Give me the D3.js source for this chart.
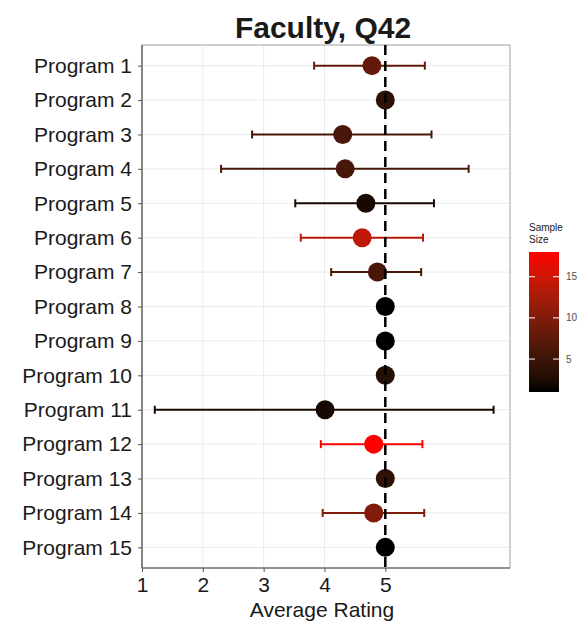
<!DOCTYPE html>
<html>
<head>
<meta charset="utf-8">
<script src="https://cdn.jsdelivr.net/npm/d3@7"></script>
<style>
  body { margin: 0; background: #fff; }
  text { font-family: "Liberation Sans", Arial, sans-serif; }
</style>
</head>
<body>
<div id="chart"></div>
<script>
var svgWidth = 582;
var svgHeight = 623;

// Panel edges
var margin = {top: 45, right: 72, bottom: 55, left: 142};
var width = svgWidth - margin.left - margin.right;
var height = svgHeight - margin.top - margin.bottom;

// Chart data
var programs = ["Program 1", "Program 2", "Program 3", "Program 4", "Program 5",
  "Program 6", "Program 7", "Program 8", "Program 9", "Program 10",
  "Program 11", "Program 12", "Program 13", "Program 14", "Program 15"];
var means = [4.78, 5, 4.30, 4.34, 4.68, 4.62, 4.87, 5, 5, 5, 4.01, 4.81, 5, 4.81, 5];
var lowers = [3.83, null, 2.81, 2.30, 3.52, 3.61, 4.11, null, null, null, 1.21, 3.94, null, 3.97, null];
var uppers = [5.65, null, 5.76, 6.37, 5.80, 5.62, 5.59, null, null, null, 6.78, 5.61, null, 5.64, null];
var sampleSizes = [8, 4, 6, 6, 2, 14, 6, 1, 1, 3, 2, 18, 4, 10, 1];
var xTicks = [1, 2, 3, 4, 5];
var legendTicks = [5, 10, 15];

var svg = d3.select("#chart")
  .append("svg")
  .attr("width", svgWidth)
  .attr("height", svgHeight);

var chartGroup = svg.append("g")
  .attr("transform", `translate(${margin.left}, ${margin.top})`);

// Scales
var xScale = d3.scaleLinear()
  .domain([1, 7.05])
  .range([0, width]);

var yScale = d3.scalePoint()
  .domain(programs)
  .range([0, height])
  .padding(0.6);

var colorScale = d3.scaleLinear()
  .domain([1, 18])
  .range(["black", "red"])
  .interpolate(d3.interpolateLab);

var rows = programs.map(function(p, i) {
  return {program: p, mean: means[i], lo: lowers[i], hi: uppers[i], n: sampleSizes[i]};
});

// Grid lines
chartGroup.selectAll(".vgrid")
  .data(xTicks)
  .enter()
  .append("line")
  .attr("x1", d => xScale(d))
  .attr("x2", d => xScale(d))
  .attr("y1", 0)
  .attr("y2", height)
  .attr("stroke", "#ebebeb")
  .attr("stroke-width", 1);

chartGroup.selectAll(".hgrid")
  .data(programs)
  .enter()
  .append("line")
  .attr("x1", 0)
  .attr("x2", width)
  .attr("y1", d => yScale(d))
  .attr("y2", d => yScale(d))
  .attr("stroke", "#ebebeb")
  .attr("stroke-width", 1);

// Panel border
chartGroup.append("rect")
  .attr("width", width)
  .attr("height", height)
  .attr("fill", "none")
  .attr("stroke", "#a0a0a0")
  .attr("stroke-width", 1);

// Axes
var bottomAxis = d3.axisBottom(xScale)
  .tickValues(xTicks)
  .tickSize(4)
  .tickPadding(5)
  .tickFormat(d3.format("d"));
var leftAxis = d3.axisLeft(yScale)
  .tickSize(4)
  .tickPadding(6);

var xAxis = chartGroup.append("g")
  .attr("transform", `translate(0, ${height})`)
  .call(bottomAxis);

var yAxis = chartGroup.append("g")
  .call(leftAxis);

[xAxis, yAxis].forEach(function(ax) {
  ax.select(".domain").attr("stroke", "#555").attr("stroke-width", 1.2);
  ax.selectAll(".tick line").attr("stroke", "#555");
  ax.selectAll(".tick text")
    .attr("fill", "#1a1a1a")
    .attr("font-size", "21px")
    .attr("font-family", "Liberation Sans, Arial, sans-serif");
});
xAxis.select(".domain").attr("d", `M0,0H${width}`);
yAxis.select(".domain").attr("d", `M0,0V${height}`);

// Error bars
var bars = rows.filter(d => d.lo !== null);
var capHalf = 4;

chartGroup.selectAll(".ebar")
  .data(bars)
  .enter()
  .append("line")
  .attr("x1", d => xScale(d.lo))
  .attr("x2", d => xScale(d.hi))
  .attr("y1", d => yScale(d.program))
  .attr("y2", d => yScale(d.program))
  .attr("stroke", d => colorScale(d.n))
  .attr("stroke-width", 2);

chartGroup.selectAll(".capLo")
  .data(bars)
  .enter()
  .append("line")
  .attr("x1", d => xScale(d.lo))
  .attr("x2", d => xScale(d.lo))
  .attr("y1", d => yScale(d.program) - capHalf)
  .attr("y2", d => yScale(d.program) + capHalf)
  .attr("stroke", d => colorScale(d.n))
  .attr("stroke-width", 2);

chartGroup.selectAll(".capHi")
  .data(bars)
  .enter()
  .append("line")
  .attr("x1", d => xScale(d.hi))
  .attr("x2", d => xScale(d.hi))
  .attr("y1", d => yScale(d.program) - capHalf)
  .attr("y2", d => yScale(d.program) + capHalf)
  .attr("stroke", d => colorScale(d.n))
  .attr("stroke-width", 2);

// Points
chartGroup.selectAll("circle")
  .data(rows)
  .enter()
  .append("circle")
  .attr("cx", d => xScale(d.mean))
  .attr("cy", d => yScale(d.program))
  .attr("r", 9.5)
  .attr("fill", d => colorScale(d.n));

// Reference line at 5
chartGroup.append("line")
  .attr("x1", xScale(5))
  .attr("x2", xScale(5))
  .attr("y1", 0)
  .attr("y2", height + 4)
  .attr("stroke", "black")
  .attr("stroke-width", 2.5)
  .attr("stroke-dasharray", "10,6");

// Title
svg.append("text")
  .attr("x", margin.left + width / 2 - 3)
  .attr("y", 38)
  .attr("text-anchor", "middle")
  .attr("font-size", "30px")
  .attr("font-weight", "bold")
  .attr("fill", "#1a1a1a")
  .text("Faculty, Q42");

// X label
svg.append("text")
  .attr("x", margin.left + width / 2 - 4)
  .attr("y", 617)
  .attr("text-anchor", "middle")
  .attr("font-size", "21px")
  .attr("fill", "#1a1a1a")
  .text("Average Rating");

// Colour legend
var legend = svg.append("g")
  .attr("transform", "translate(529, 0)");

var barW = 30;
var legendScale = d3.scaleLinear()
  .domain([1, 18])
  .range([392, 252]);

var grad = svg.append("defs")
  .append("linearGradient")
  .attr("id", "sizeGrad")
  .attr("x1", 0).attr("y1", 1)
  .attr("x2", 0).attr("y2", 0);

d3.range(0, 1.0001, 0.1).forEach(function(t) {
  grad.append("stop")
    .attr("offset", t)
    .attr("stop-color", colorScale(1 + t * 17));
});

legend.append("rect")
  .attr("x", 0)
  .attr("y", legendScale(18))
  .attr("width", barW)
  .attr("height", legendScale(1) - legendScale(18))
  .attr("fill", "url(#sizeGrad)");

legend.selectAll(".lt1")
  .data(legendTicks)
  .enter()
  .append("line")
  .attr("x1", 0).attr("x2", 6)
  .attr("y1", d => legendScale(d))
  .attr("y2", d => legendScale(d))
  .attr("stroke", "white")
  .attr("stroke-width", 1);

legend.selectAll(".lt2")
  .data(legendTicks)
  .enter()
  .append("line")
  .attr("x1", barW - 6).attr("x2", barW)
  .attr("y1", d => legendScale(d))
  .attr("y2", d => legendScale(d))
  .attr("stroke", "white")
  .attr("stroke-width", 1);

legend.selectAll(".ll")
  .data(legendTicks)
  .enter()
  .append("text")
  .attr("x", barW + 7)
  .attr("y", d => legendScale(d))
  .attr("dy", "0.35em")
  .attr("font-size", "10px")
  .attr("fill", "#4d4d4d")
  .text(d => d);

legend.append("text")
  .attr("x", 0)
  .attr("y", 231)
  .attr("font-size", "10px")
  .attr("fill", "#1a1a1a")
  .text("Sample");

legend.append("text")
  .attr("x", 0)
  .attr("y", 243)
  .attr("font-size", "10px")
  .attr("fill", "#1a1a1a")
  .text("Size");
</script>
</body>
</html>
